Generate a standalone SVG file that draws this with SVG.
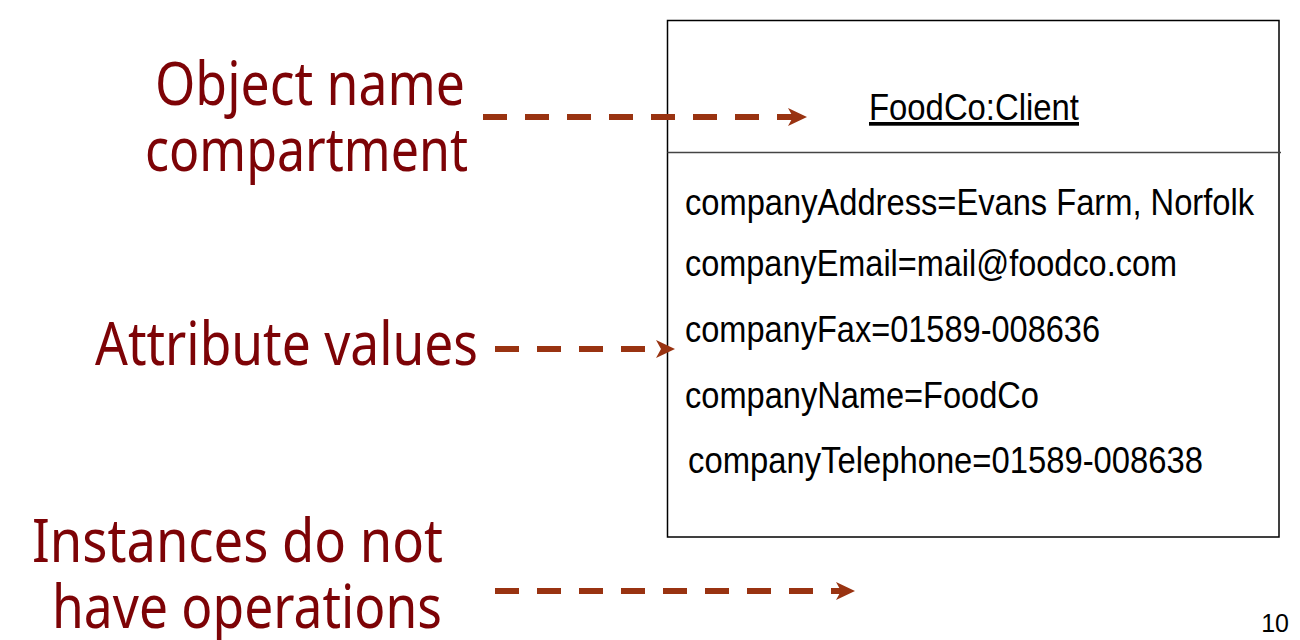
<svg xmlns="http://www.w3.org/2000/svg" width="1300" height="640" viewBox="0 0 1300 640">
  <style>
    .lbl { font-family: "Noto Sans", "DejaVu Sans", sans-serif; font-size: 60px; fill: #7d0306; }
    .attr { font-family: "Liberation Sans", Arial, sans-serif; font-size: 37px; fill: #000; }
    .conn { stroke: #993311; stroke-width: 6; stroke-dasharray: 24 18; fill: none; }
    .box { fill: #fff; stroke: #000; stroke-width: 1.5; }
    .div { stroke: #444; stroke-width: 1.5; }
  </style>
  <defs>
    <marker id="arr" markerUnits="userSpaceOnUse" markerWidth="20" markerHeight="20" refX="5" refY="9" orient="auto">
      <path d="M0,0 L19,9 L0,18 L5,9 Z" fill="#993311"/>
    </marker>
  </defs>
  <rect width="1300" height="640" fill="#fff"/>

  <g id="object-node">
    <rect class="box" x="667.5" y="20.5" width="611.5" height="516.5"/>
    <line class="div" x1="667.5" y1="152.5" x2="1281" y2="152.5"/>
    <text class="attr" x="869" y="120" textLength="210" lengthAdjust="spacingAndGlyphs" text-decoration="underline">FoodCo:Client</text>
    <text class="attr" x="685" y="215" textLength="569" lengthAdjust="spacingAndGlyphs">companyAddress=Evans Farm, Norfolk</text>
    <text class="attr" x="685" y="276" textLength="492" lengthAdjust="spacingAndGlyphs">companyEmail=mail@foodco.com</text>
    <text class="attr" x="685" y="342" textLength="415" lengthAdjust="spacingAndGlyphs">companyFax=01589-008636</text>
    <text class="attr" x="685" y="408" textLength="354" lengthAdjust="spacingAndGlyphs">companyName=FoodCo</text>
    <text class="attr" x="688" y="473" textLength="515" lengthAdjust="spacingAndGlyphs">companyTelephone=01589-008638</text>
  </g>

  <g id="label-object-name">
    <text class="lbl" x="155" y="105" textLength="310" lengthAdjust="spacingAndGlyphs">Object name</text>
    <text class="lbl" x="145" y="171" textLength="323" lengthAdjust="spacingAndGlyphs">compartment</text>
  </g>
  <g id="label-attribute-values">
    <text class="lbl" x="95" y="365" textLength="383" lengthAdjust="spacingAndGlyphs">Attribute values</text>
  </g>
  <g id="label-operations">
    <text class="lbl" x="32" y="562" textLength="411" lengthAdjust="spacingAndGlyphs">Instances do not</text>
    <text class="lbl" x="52" y="628" textLength="390" lengthAdjust="spacingAndGlyphs">have operations</text>
  </g>

  <g id="connectors">
    <path class="conn" d="M483,117 L793,117" marker-end="url(#arr)"/>
    <path class="conn" d="M495,349 L661,349" marker-end="url(#arr)"/>
    <path class="conn" d="M495,591 L841,591" marker-end="url(#arr)"/>
  </g>

  <text x="1289" y="632" font-family="Liberation Sans, Arial, sans-serif" font-size="25" text-anchor="end" fill="#000">10</text>
</svg>
